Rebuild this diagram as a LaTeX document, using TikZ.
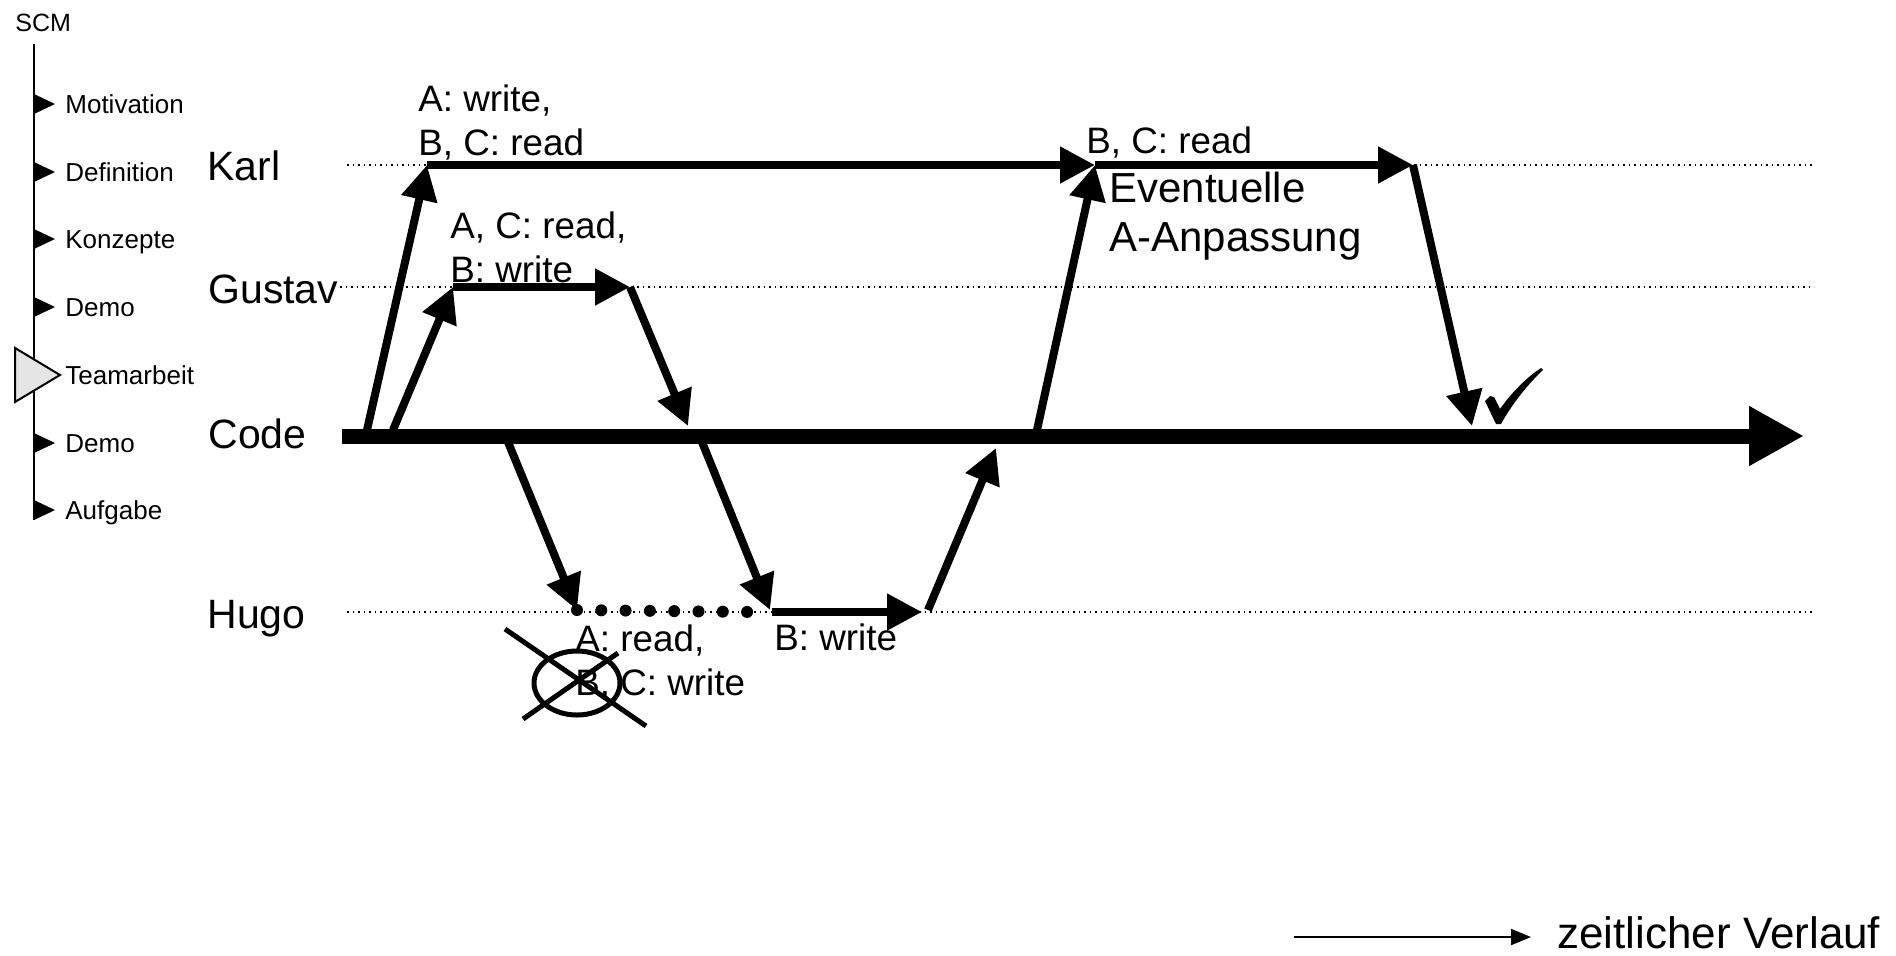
\documentclass[tikz,border=0pt]{standalone}
\usepackage{fontspec}
\setmainfont{Liberation Sans}
\usetikzlibrary{arrows.meta,calc}

\begin{document}
\begin{tikzpicture}
  [x=0.5pt,y=-0.5pt,
   lane/.style={dotted,line width=0.75pt},
   flow/.style={line width=4pt,-{Triangle[length=17.5pt,width=17.5pt]}},
   trunk/.style={line width=7.5pt,-{Triangle[length=27.5pt,width=28pt]}},
   who/.style={anchor=base west,inner sep=0pt,font=\fontsize{20.5}{24}\selectfont},
   note/.style={anchor=north west,inner sep=0pt,align=left,font=\fontsize{18.4}{22}\selectfont},
   menu/.style={anchor=base west,inner sep=0pt,font=\fontsize{13}{15}\selectfont}]
  \useasboundingbox (0,0) rectangle (1896,955);

  % outline on the left
  \node[menu,font=\fontsize{12.5}{15}\selectfont] (scm) at (15,31) {SCM};
  \draw[line width=1pt] (34,44) -- (34,520);
  \foreach \y/\t in {104/Motivation,172/Definition,239/Konzepte,307/Demo,
                     375/Teamarbeit,443/Demo,510/Aufgabe}
    \node[menu] (m\y) at (65,\y+9) {\t};
  \foreach \y in {104,172,239,307,443,510}
    \fill (34,\y-10) -- (55,\y) -- (34,\y+10) -- cycle;
  \filldraw[fill=black!10,line width=1pt] (15,348) -- (60,375) -- (15,402) -- cycle;

  % lanes
  \node[who] (karl)   at (207,180) {Karl};
  \node[who] (gustav) at (208,303) {Gustav};
  \node[who] (code)   at (208,448) {Code};
  \node[who] (hugo)   at (207,628) {Hugo};
  \coordinate (k0) at (347,165);  \coordinate (kE) at (1814,165);
  \coordinate (g0) at (340,287);  \coordinate (gE) at (1814,287);
  \coordinate (h0) at (347,612);  \coordinate (hE) at (1814,612);
  \draw[lane] (k0) -- (kE);
  \draw[lane] (g0) -- (gE);
  \draw[lane] (h0) -- (hE);

  % points
  \coordinate (c0) at (342,436);  \coordinate (cE) at (1804,436);
  \coordinate (c1) at (367,430);  \coordinate (c2) at (393,430);
  \coordinate (c3) at (688,426);  \coordinate (c4) at (508,442);
  \coordinate (c5) at (702,442);  \coordinate (c6) at (996,448);
  \coordinate (c7) at (1037,430); \coordinate (c8) at (1472,426);
  \coordinate (k1) at (427,165);  \coordinate (k2) at (1095,165);
  \coordinate (k3) at (1413,165);
  \coordinate (g1) at (453,287);  \coordinate (g2) at (630,287);
  \coordinate (h1) at (577,610);  \coordinate (h2) at (770,610);
  \coordinate (h3) at (922,612);  \coordinate (h4) at (928,610);

  \draw[trunk] (c0) -- (cE);
  \draw[flow] (c1) -- (k1);
  \draw[flow] (k1) -- (k2);
  \draw[flow] (k2) -- (k3);
  \draw[flow] (k3) -- (c8);
  \draw[flow] (c2) -- (g1);
  \draw[flow] (g1) -- (g2);
  \draw[flow] (g2) -- (c3);
  \draw[flow] (c4) -- (h1);
  \draw[flow] (c5) -- (h2);
  \draw[line width=6pt,line cap=round,dash pattern=on 0pt off 12.15pt]
    (h1) -- ($(h1)+(175,2)$);
  \draw[flow] ($(h2)+(2,2)$) -- (h3);
  \draw[flow] (h4) -- (c6);
  \draw[flow] (c7) -- (k2);

  % texts
  \node[note] (kwrite) at (418,84) {A: write,\\B, C: read};
  \node[note] (gwrite) at (450,211) {A, C: read,\\B: write};
  \node[note,anchor=base west] (kread) at (1086,153) {B, C: read};
  \node[note,font=\fontsize{21}{24.5}\selectfont] (adapt) at (1109,172)
    {Eventuelle\\A-Anpassung};
  \node[note] (hread) at (575,624) {A: read,\\B, C: write};
  \node[note,anchor=base west] (hwrite) at (774,650) {B: write};

  % check mark
  \fill (1485,401) -- (1490,396) -- (1494,397) -- (1500,409)
    .. controls (1512,392) and (1526,378) .. (1541,368) -- (1543,370)
    .. controls (1528,384) and (1512,404) .. (1501,424) -- (1496,424) -- cycle;

  % crossed out
  \draw[line width=2.5pt] (577,683) ellipse [x radius=21.5pt,y radius=16pt];
  \draw[line width=2.5pt] (505,629) -- (646,726);
  \draw[line width=2.5pt] (523,719) -- (618,653);

  % legend
  \coordinate (t0) at (1294,937); \coordinate (t1) at (1531,937);
  \draw[line width=1pt,-{Triangle[length=10pt,width=8pt]}] (t0) -- (t1);
  \node[anchor=base west,inner sep=0pt,font=\fontsize{22}{26}\selectfont] (time)
    at (1557,948) {zeitlicher Verlauf};
\end{tikzpicture}
\end{document}
